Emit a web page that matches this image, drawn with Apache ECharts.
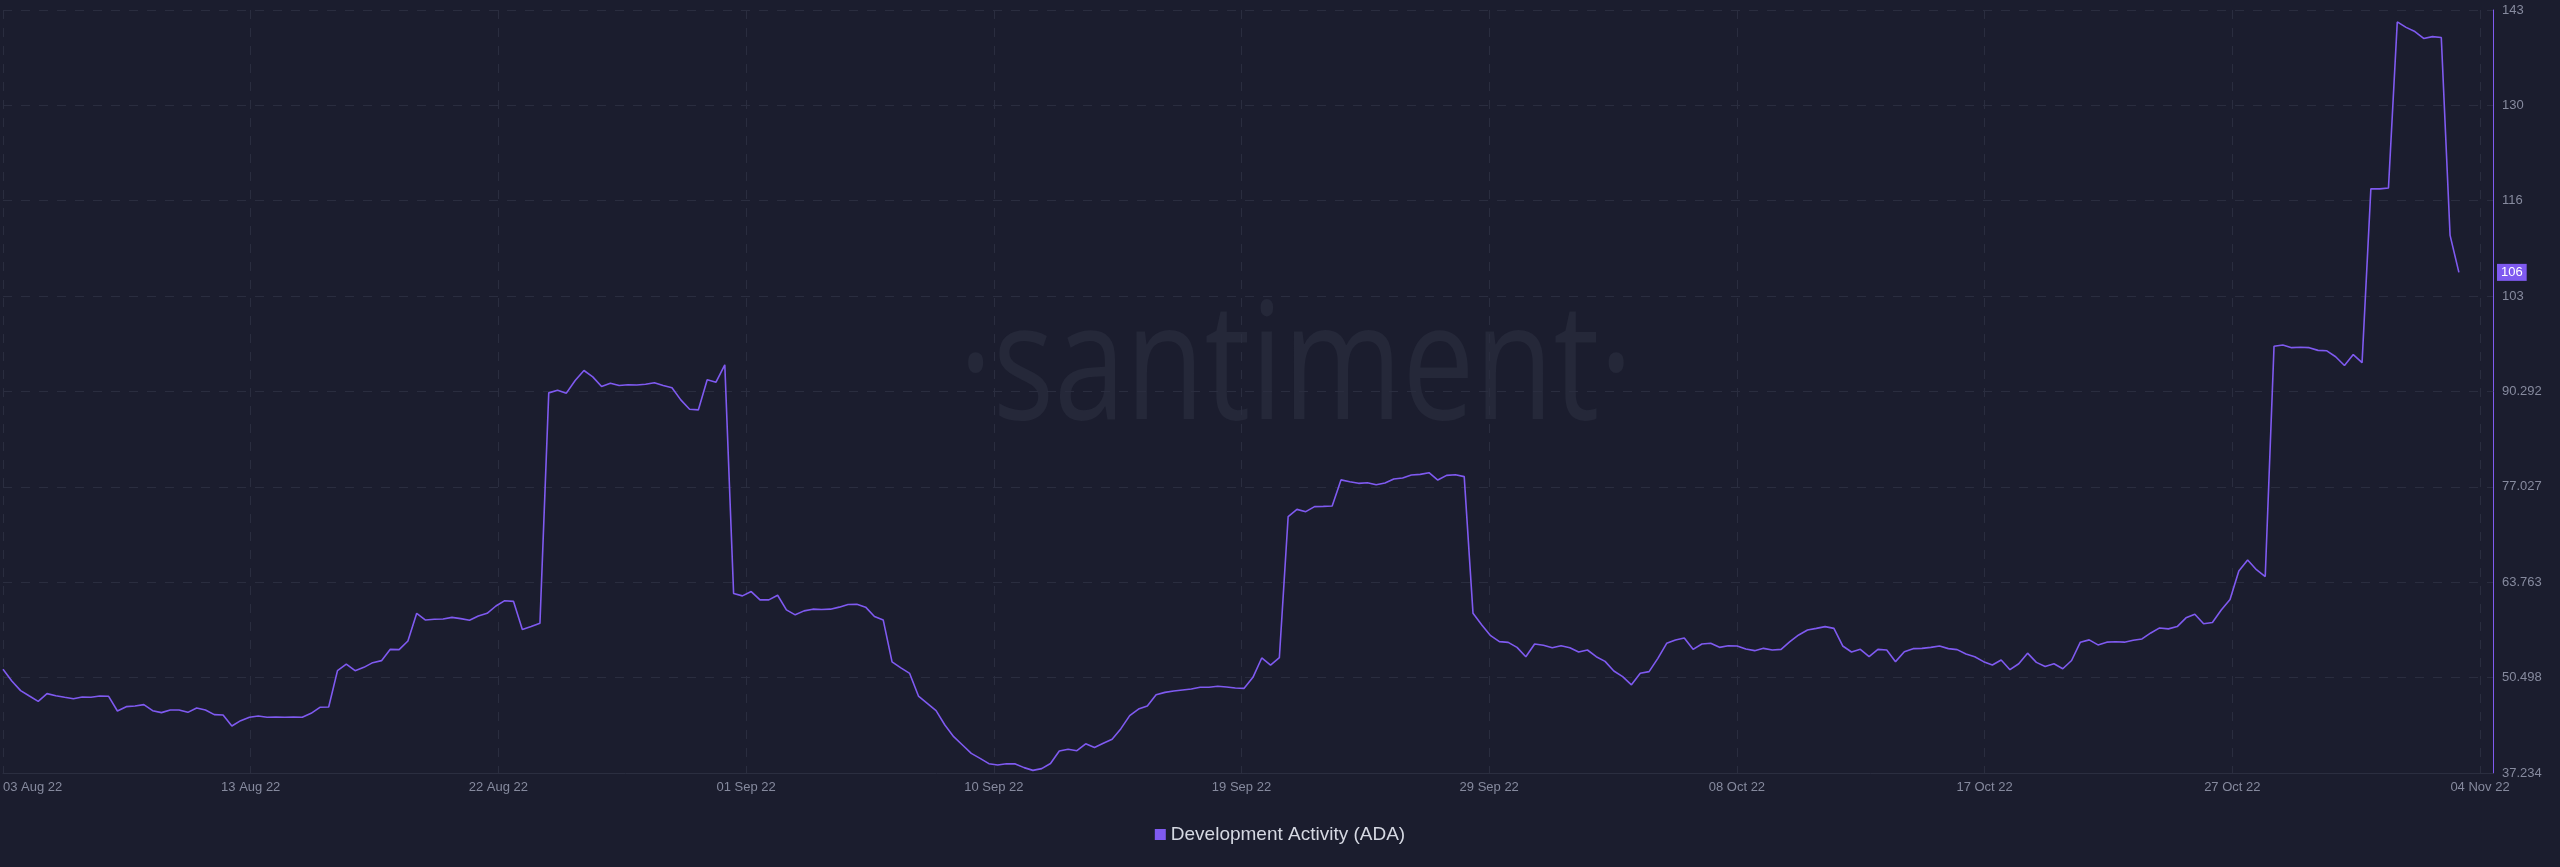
<!DOCTYPE html>
<html>
<head>
<meta charset="utf-8">
<title>Development Activity (ADA)</title>
<script src="https://cdn.jsdelivr.net/npm/echarts@6/dist/echarts.min.js"></script>
<style>
    html, body { margin: 0; padding: 0; background: #1b1d2e; }
    #chart { width: 2560px; height: 867px; }
</style>
</head>
<body>
<div id="chart"></div>
<script>
const HOUR = 3600 * 1000;

// one reading every 8 hours, starting 03 Aug 22 21:00 UTC
const startTime = Date.UTC(2022, 7, 3, 21, 0);
const stepHours = 8;
const devActivity = [
    51.65, 50.03, 48.69, 47.94, 47.2, 48.27, 47.99, 47.76, 47.57, 47.8,
    47.76, 47.94, 47.9, 45.86, 46.46, 46.55, 46.74, 45.9, 45.63, 46.0,
    46.0, 45.67, 46.28, 46.0, 45.35, 45.3, 43.77, 44.51, 44.98, 45.16,
    44.98, 45.02, 44.98, 45.02, 44.98, 45.53, 46.37, 46.42, 51.47, 52.39,
    51.47, 51.93, 52.58, 52.86, 54.43, 54.39, 55.59, 59.44, 58.51, 58.61,
    58.65, 58.88, 58.7, 58.47, 59.07, 59.44, 60.46, 61.2, 61.1, 57.2,
    57.6, 58.07, 90.1, 90.48, 90.06, 91.82, 93.21, 92.33, 90.99, 91.45,
    91.13, 91.22, 91.2, 91.31, 91.5, 91.13, 90.8, 89.13, 87.83, 87.74,
    91.92, 91.59, 94.0, 62.2, 61.87, 62.47, 61.31, 61.31, 61.95, 59.92,
    59.23, 59.78, 60.02, 59.97, 60.02, 60.3, 60.67, 60.71, 60.3, 59.0,
    58.5, 52.7, 51.85, 51.08, 47.94, 46.92, 45.9, 43.91, 42.29, 41.13,
    39.97, 39.27, 38.53, 38.35, 38.53, 38.5, 37.98, 37.6, 37.84, 38.55,
    40.3, 40.53, 40.34, 41.3, 40.78, 41.36, 41.94, 43.4, 45.21, 46.13,
    46.55, 48.13, 48.45, 48.64, 48.78, 48.92, 49.15, 49.15, 49.29, 49.19,
    49.06, 49.01, 50.54, 53.23, 52.25, 53.27, 72.9, 73.9, 73.58, 74.28,
    74.32, 74.37, 78.0, 77.75, 77.52, 77.61, 77.33, 77.56, 78.12, 78.26,
    78.68, 78.77, 79.0, 77.98, 78.63, 78.72, 78.45, 59.44, 57.82, 56.33,
    55.5, 55.4, 54.71, 53.41, 55.18, 54.99, 54.66, 54.94, 54.66, 54.06,
    54.34, 53.41, 52.76, 51.42, 50.63, 49.5, 51.1, 51.33, 53.18, 55.27,
    55.73, 56.0, 54.43, 55.18, 55.27, 54.71, 54.94, 54.9, 54.48, 54.25,
    54.57, 54.34, 54.43, 55.5, 56.43, 57.12, 57.35, 57.59, 57.35, 54.9,
    54.06, 54.43, 53.41, 54.43, 54.34, 52.72, 54.11, 54.53, 54.57, 54.71,
    54.9, 54.53, 54.39, 53.78, 53.41, 52.72, 52.25, 52.95, 51.6, 52.43,
    53.9, 52.62, 52.05, 52.43, 51.73, 52.88, 55.43, 55.75, 55.05, 55.43,
    55.49, 55.43, 55.69, 55.88, 56.71, 57.41, 57.28, 57.6, 58.81, 59.32,
    57.98, 58.17, 59.9, 61.37, 65.32, 66.85, 65.51, 64.56, 96.58, 96.77,
    96.39, 96.45, 96.39, 96.01, 95.95, 95.12, 93.9, 95.43, 94.3, 118.47,
    118.47, 118.6, 141.69, 140.93, 140.35, 139.39, 139.65, 139.52, 112.0, 106.86
];

const xTickLabels = ['03 Aug 22', '13 Aug 22', '22 Aug 22', '01 Sep 22', '10 Sep 22', '19 Sep 22',
    '29 Sep 22', '08 Oct 22', '17 Oct 22', '27 Oct 22', '04 Nov 22'];
const xTickHours = 225.12;
const xSpanHours = 2263;

const yTickLabels = ['37.234', '50.498', '63.763', '77.027', '90.292', '103', '116', '130', '143'];
const yMin = 37.234;
const yInterval = 13.26445;

const seriesName = 'Development Activity (ADA)';
const purple = '#7f5af0';
const labelFont = '"Liberation Sans", Arial, sans-serif';

const chart = echarts.init(document.getElementById('chart'));

const points = devActivity.map((v, i) => [startTime + i * stepHours * HOUR, v]);
const lastValue = devActivity[devActivity.length - 1];

function pickLabel(labels, min, step, value) {
    const k = Math.round((value - min) / step);
    if (k < 0 || k >= labels.length) return '';
    if (Math.abs(value - (min + k * step)) > step * 0.01) return '';
    return labels[k];
}

const option = {
    backgroundColor: '#1b1d2e',
    animation: false,
    grid: { left: 0, right: 67, top: 10, bottom: 94 },
    graphic: [{
        type: 'text',
        x: 1296,
        y: 373,
        scaleX: 0.79,
        z: -1,
        silent: true,
        style: {
            text: '·santiment·',
            font: '163px "Open Sans"',
            fill: '#252839',
            align: 'center',
            verticalAlign: 'middle'
        }
    }],
    legend: {
        data: [seriesName],
        left: 'center',
        top: 825,
        padding: 0,
        icon: 'rect',
        itemWidth: 11,
        itemHeight: 11,
        textStyle: { color: '#d5d8e2', fontSize: 19, fontFamily: labelFont }
    },
    xAxis: {
        type: 'value',
        min: startTime,
        max: startTime + xSpanHours * HOUR,
        interval: xTickHours * HOUR,
        axisLine: { show: true, lineStyle: { color: '#2b2e40', width: 1 } },
        axisTick: { show: false },
        axisLabel: {
            color: '#868a9e',
            fontSize: 13,
            fontFamily: labelFont,
            margin: 8,
            alignMinLabel: 'left',
            formatter: (v) => pickLabel(xTickLabels, startTime, xTickHours * HOUR, v)
        },
        splitLine: { show: true, lineStyle: { color: '#2a2d3f', type: [9, 9], width: 1 } }
    },
    yAxis: {
        type: 'value',
        position: 'right',
        min: yMin,
        max: yMin + 8 * yInterval,
        interval: yInterval,
        axisLine: { show: true, lineStyle: { color: purple, width: 1 } },
        axisTick: { show: false },
        axisLabel: {
            color: '#868a9e',
            fontSize: 13,
            fontFamily: labelFont,
            margin: 9,
            formatter: (v) => pickLabel(yTickLabels, yMin, yInterval, v)
        },
        splitLine: { show: true, lineStyle: { color: '#2a2d3f', type: [9, 9], width: 1 } }
    },
    series: [{
        name: seriesName,
        type: 'line',
        data: points,
        showSymbol: false,
        symbol: 'none',
        color: purple,
        lineStyle: { color: purple, width: 1.6 },
        markLine: {
            silent: true,
            symbol: ['none', 'none'],
            lineStyle: { color: 'rgba(0,0,0,0)', width: 1, type: 'solid' },
            label: {
                show: true,
                position: 'end',
                distance: 4,
                formatter: (p) => String(Math.floor(p.value)),
                color: '#ffffff',
                backgroundColor: purple,
                padding: [2, 4, 2, 4],
                fontSize: 13,
                fontFamily: labelFont
            },
            data: [{ yAxis: lastValue }]
        }
    }]
};

chart.setOption(option);
</script>
</body>
</html>
